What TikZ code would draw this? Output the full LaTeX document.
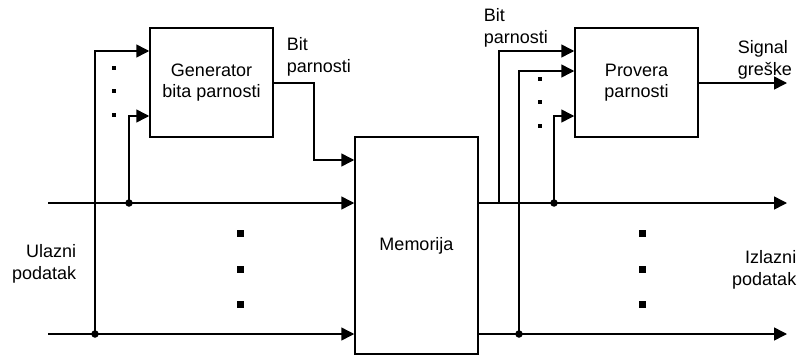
\documentclass[tikz,border=0pt]{standalone}
\usepackage{fontspec}
\setmainfont{Liberation Sans}
\usetikzlibrary{arrows.meta}
\begin{document}
\begin{tikzpicture}[x=1pt,y=-1pt,line width=1.5pt,
  arr/.style={-{Triangle[length=13pt,width=13pt]}},
  txt/.style={font=\fontsize{18}{21.5}\selectfont},
  blk/.style={draw,txt,align=center,inner sep=0pt,minimum width=123pt},
  lbl/.style={txt,inner sep=0pt},
  jdot/.style={circle,fill,inner sep=0pt,minimum size=7.5pt},
  sdot/.style={fill,inner sep=0pt,minimum size=4pt},
  bdot/.style={fill,inner sep=0pt,minimum size=7pt}]
\useasboundingbox (0,0) rectangle (797,356);
% blocks
\node[blk,minimum height=109pt] (gen) at (211.5,82.5) {Generator\\bita parnosti};
\node[blk,minimum height=217pt] (mem) at (416.5,245.5) {Memorija};
\node[blk,minimum height=109pt] (prov) at (636.5,82.5) {Provera\\parnosti};
% input lines
\coordinate (inA) at (48,203);
\coordinate (inB) at (48,334);
\coordinate (j1) at (129,203);
\coordinate (j2) at (95,334);
\draw[arr] (inA) -- (inA -| mem.west);
\draw[arr] (inB) -- (inB -| mem.west);
\draw[arr] (j1) -- (129,116) -- (gen.west |- 0,116);
\draw[arr] (j2) -- (95,51) -- (gen.west |- 0,51);
\node[jdot] (d1) at (j1) {};
\node[jdot] (d2) at (j2) {};
% parity bit into memory
\draw[arr] (gen.east |- 0,83) -- (314,83) -- (314,160) -- (mem.west |- 0,160);
% outputs
\coordinate (outA) at (787,203);
\coordinate (outB) at (787,334);
\coordinate (j3) at (554,203);
\coordinate (j4) at (519,334);
\draw[arr] (mem.east |- outA) -- (outA);
\draw[arr] (mem.east |- outB) -- (outB);
\draw[arr] (499,203) -- (499,51) -- (prov.west |- 0,51);
\draw[arr] (j4) -- (519,71) -- (prov.west |- 0,71);
\draw[arr] (j3) -- (554,116) -- (prov.west |- 0,116);
\node[jdot] (d3) at (j3) {};
\node[jdot] (d4) at (j4) {};
\coordinate (sig) at (787,83);
\draw[arr] (prov.east |- sig) -- (sig);
% dots
\foreach \y [count=\i] in {68,91,115} \node[sdot] (ga\i) at (114,\y) {};
\foreach \y [count=\i] in {79,102,126} \node[sdot] (pa\i) at (540,\y) {};
\foreach \y [count=\i] in {233,269,304} \node[bdot] (la\i) at (240,\y) {};
\foreach \y [count=\i] in {233,269,304} \node[bdot] (ra\i) at (642,\y) {};
% labels
\node[lbl,align=left,anchor=west] (bp1) at (286,57) {Bit\\parnosti};
\node[lbl,align=left,anchor=west] (bp2) at (483,28) {Bit\\parnosti};
\node[lbl,align=left,anchor=west] (sg) at (737,60) {Signal\\greške};
\node[lbl,align=right,anchor=east] (ul) at (77,264) {Ulazni\\podatak};
\node[lbl,align=right,anchor=east] (iz) at (797,270) {Izlazni\\podatak};
\end{tikzpicture}
\end{document}
